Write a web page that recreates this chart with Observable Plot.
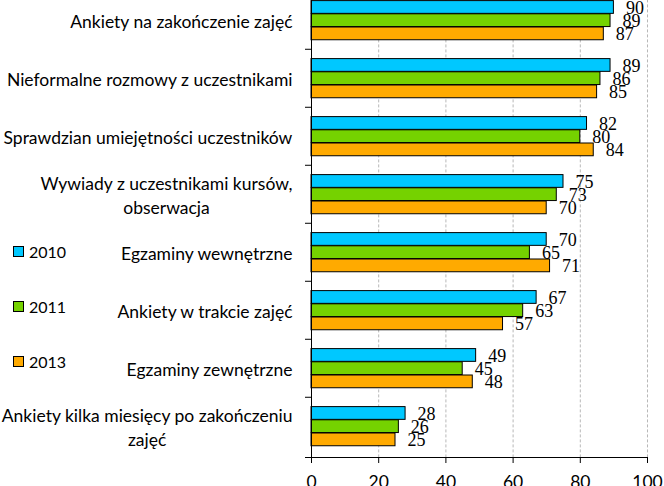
<!DOCTYPE html>
<html><head><meta charset="utf-8">
<script src="https://cdn.jsdelivr.net/npm/d3@7"></script>
<script src="https://cdn.jsdelivr.net/npm/@observablehq/plot@0.6"></script>
<style>
html,body{margin:0;padding:0;background:#fff;overflow:hidden}
#wrap{position:relative;width:664px;height:486px}
#wrap svg{position:absolute;left:0;top:0}
.leg{position:absolute;left:13px;height:20px;display:flex;align-items:center;font-family:Lato,sans-serif;font-size:16px;color:#000}
.leg span.sw{display:inline-block;width:9px;height:9px;border:1px solid #000;margin-right:5px}
</style></head><body><div id="wrap"></div>
<script>
const categories = [
  "Ankiety na zakończenie zajęć",
  "Nieformalne rozmowy z uczestnikami",
  "Sprawdzian umiejętności uczestników",
  "Wywiady z uczestnikami kursów,\nobserwacja",
  "Egzaminy wewnętrzne",
  "Ankiety w trakcie zajęć",
  "Egzaminy zewnętrzne",
  "Ankiety kilka miesięcy po zakończeniu\nzajęć"
];
const years = ["2010", "2011", "2013"];
const v2010 = [90, 89, 82, 75, 70, 67, 49, 28];
const v2011 = [89, 86, 80, 73, 65, 63, 45, 26];
const v2013 = [87, 85, 84, 70, 71, 57, 48, 25];
const xTicks = [0, 20, 40, 60, 80, 100];

const colors = ["#00c8ff", "#75d200", "#ffaa00"];
const series = [v2010, v2011, v2013];
const rows = categories.flatMap((c, i) => years.map((y, j) => ({cat: c, year: y, value: series[j][i]})));

const W = 664, H = 486, mTop = -10.6, mBottom = 29, mLeft = 311, mRight = 17;
const step = (H - mBottom - mTop) / categories.length;
const barOff = 9.6, barH = 13.2;

const marks = [
  Plot.gridX({ticks: xTicks.slice(1), stroke: "#b8b8b8", strokeOpacity: 1, strokeDasharray: "3,2"}),
  ...years.map((yr, j) => Plot.barX(rows.filter(d => d.year === yr), {
    x: "value", y: "cat", fill: colors[j], stroke: "black", strokeWidth: 1,
    insetTop: barOff + barH * j, insetBottom: step - barOff - barH * (j + 1)
  })),
  ...years.map((yr, j) => Plot.text(rows.filter(d => d.year === yr), {
    x: "value", y: "cat", text: d => String(d.value), textAnchor: "start",
    dx: 12, dy: (j - 1) * barH + 1, fontFamily: "Liberation Serif", fontSize: 18, fill: "black"
  })),
  Plot.ruleX([0], {stroke: "black"}),
  Plot.frame({anchor: "bottom", insetLeft: -6, stroke: "black"}),
  Plot.axisX({ticks: xTicks, tickSize: 6, tickPadding: 12, fontSize: 17.5, fontFamily: "Lato", label: null, color: "black"}),
  Plot.axisY({tickSize: 6, tickFormat: () => "", dy: -step / 2, label: null}),
  Plot.text(categories, {y: d => d, frameAnchor: "left", dx: -19, textAnchor: "end", lineHeight: 1.35,
    fontSize: 17.5, fontFamily: "Lato", fill: "black", className: "ylab"})
];

const chart = Plot.plot({
  width: W, height: H,
  marginTop: mTop, marginBottom: mBottom, marginLeft: mLeft, marginRight: mRight,
  x: {domain: [0, 100]},
  y: {domain: categories, padding: 0},
  style: {background: "white", overflow: "visible"},
  marks
});
const wrap = document.getElementById("wrap");
wrap.appendChild(chart);

// center multi-line category labels on their own block, keeping right edge
chart.querySelectorAll("g.ylab text").forEach(t => {
  const w = t.getBBox().width;
  t.setAttribute("text-anchor", "middle");
  t.setAttribute("transform", (t.getAttribute("transform") || "") + ` translate(${-w / 2},0)`);
});

const legendCenters = [251, 306, 361];
years.forEach((yr, j) => {
  const d = document.createElement("div");
  d.className = "leg";
  d.style.top = (legendCenters[j] - 10) + "px";
  d.innerHTML = `<span class="sw" style="background:${colors[j]}"></span>${yr}`;
  wrap.appendChild(d);
});
</script></body></html>
